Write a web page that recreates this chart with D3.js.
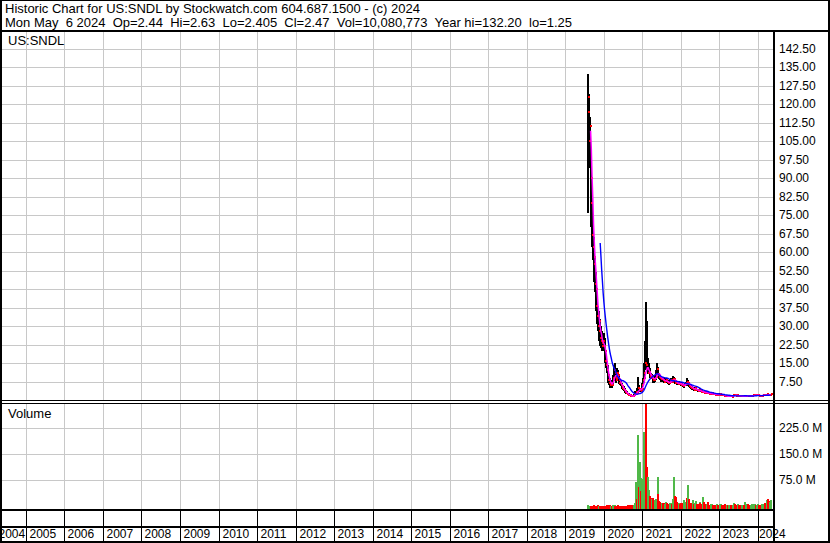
<!DOCTYPE html>
<html>
<head>
<meta charset="utf-8">
<script src="https://cdn.jsdelivr.net/npm/d3@7"></script>
<style>
  body { margin: 0; background: #fff; }
  svg { display: block; }
  text { font-family: Arial, "Liberation Sans", sans-serif; fill: #000; white-space: pre; }
</style>
</head>
<body>
<script>
// weekly bars, first week ends Fri 2 Aug 2019
const firstWeek = new Date(2019, 7, 2)

const hi = [
  132.2, 130, 124, 115, 100, 96, 82, 75, 66, 62,
  58, 52, 48, 42, 38, 34, 36, 33, 30, 28,
  27, 26, 27, 25, 22, 18, 16, 14, 12, 10,
  9, 8, 8, 8, 9, 10, 14, 15, 12, 11,
  13, 12, 10, 9, 8.5, 8, 7, 6.5, 6, 5.5,
  5, 4.5, 4, 3.5, 3.2, 3, 2.8, 2.5, 2.3, 2.1,
  2, 1.9, 1.8, 2.5, 3.5, 3.6, 3.4, 4.8, 9.5, 6,
  5, 4.6, 4.4, 5, 7, 9, 11, 15, 24, 39.6,
  32, 22, 17, 15, 13, 12, 11, 10.5, 10, 9.5,
  9, 10, 11, 12, 15, 13.5, 12, 11, 10, 9.5,
  9.5, 9.5, 9.5, 9, 8.5, 8.5, 9, 9, 8.5, 8.2,
  8, 8, 8.5, 9, 8.5, 9.7, 9.5, 9.2, 8.6, 8.2,
  7.8, 7.6, 7.4, 7.5, 7.6, 7.4, 7.2, 7, 6.8, 6.5,
  6.4, 6.6, 7, 7.4, 7.2, 9, 8, 7.2, 6.8, 6.4,
  6, 5.8, 5.6, 5.4, 5, 5.2, 5.4, 5, 4.6, 4.3,
  4.2, 4.5, 4.8, 4.4, 4, 3.8, 3.6, 3.5, 3.6, 3.4,
  3.3, 3.5, 3.6, 3.4, 3.2, 3, 2.9, 3, 3.2, 3.1,
  2.9, 2.8, 2.7, 2.6, 2.6, 2.7, 2.6, 2.5, 2.4, 2.6,
  2.8, 2.6, 2.5, 2.4, 2.3, 2.1, 2, 1.9, 2, 1.9,
  1.8, 1.8, 1.9, 1.8, 1.7, 1.7, 1.8, 2.1, 2.4, 2.3,
  2.2, 2.1, 2, 2.1, 2, 1.9, 1.85, 1.8, 1.7, 1.7,
  1.75, 1.7, 1.7, 1.65, 1.7, 1.9, 1.95, 1.85, 1.8, 1.75,
  1.7, 1.7, 1.8, 1.9, 1.95, 2, 2.1, 2.05, 2, 2,
  2.1, 2.1, 2, 1.9, 1.85, 1.8, 1.9, 2, 2.1, 2.2,
  2.1, 2.05, 2.1, 2.4, 2.6, 2.4, 2.2, 2.3, 2.63
]

const lo = [
  76, 100, 94, 94, 80, 70, 62, 57, 52, 48,
  44, 40, 36, 31, 28, 26, 24, 22, 21, 20,
  20, 20, 20, 19, 15, 13, 11, 9, 7, 6,
  5, 5, 5.5, 5, 5.5, 7, 8, 9, 8, 7,
  8, 8, 7, 6.5, 6, 5.5, 5, 4.5, 4, 3.8,
  3.2, 3, 2.6, 2.5, 2.3, 2.1, 1.9, 1.8, 1.6, 1.5,
  1.4, 1.3, 1.25, 1.4, 1.8, 2.2, 2.4, 2.5, 2.8, 3.5,
  3.3, 3.2, 3.3, 3.4, 4, 5.5, 7, 8.5, 12, 13,
  12, 12, 10.5, 10.5, 9.5, 9, 8.5, 8.5, 7.5, 7,
  7, 7.5, 8, 9, 10, 9.5, 9, 8.5, 8, 7.5,
  7.5, 7.5, 7.5, 7, 6.8, 7, 7.2, 7, 6.8, 6.5,
  6.2, 6.3, 6.8, 7, 6.8, 7, 7.5, 7.2, 7, 6.6,
  6.4, 6.2, 6, 6.2, 6.3, 6, 5.8, 5.6, 5.5, 5.2,
  5, 5.2, 5.5, 6, 5.8, 6, 6.2, 5.8, 5.4, 5,
  4.6, 4.4, 4.2, 4, 3.8, 3.8, 4.2, 4, 3.6, 3.4,
  3.3, 3.4, 3.6, 3.4, 3.1, 3, 2.9, 2.8, 2.8, 2.7,
  2.6, 2.6, 2.8, 2.7, 2.5, 2.3, 2.2, 2.3, 2.4, 2.4,
  2.2, 2.1, 2, 2, 2, 2.1, 2, 1.9, 1.9, 1.9,
  2.1, 2, 2, 1.9, 1.8, 1.6, 1.5, 1.45, 1.5, 1.5,
  1.45, 1.4, 1.45, 1.4, 1.35, 1.3, 1.35, 1.5, 1.8, 1.9,
  1.8, 1.7, 1.6, 1.7, 1.6, 1.55, 1.5, 1.45, 1.4, 1.4,
  1.45, 1.4, 1.35, 1.35, 1.4, 1.5, 1.6, 1.55, 1.5, 1.45,
  1.4, 1.45, 1.5, 1.6, 1.65, 1.7, 1.75, 1.75, 1.7, 1.7,
  1.8, 1.8, 1.7, 1.65, 1.6, 1.6, 1.65, 1.7, 1.8, 1.85,
  1.8, 1.8, 1.8, 1.9, 2, 2, 1.9, 2, 2.1
]

const cl = [
  117, 123, 105, 111, 90, 80, 67, 62, 58, 55,
  47, 45, 38, 34, 30, 32, 28, 25, 24, 23,
  22, 24, 22, 20, 16, 14, 12, 10, 8, 7,
  6, 7, 6.5, 6, 8, 9, 12, 11, 9, 8,
  11, 10, 8, 7, 7, 6, 5.5, 5, 4.5, 4,
  3.5, 3.2, 2.8, 2.6, 2.4, 2.2, 2, 1.9, 1.7, 1.6,
  1.5, 1.45, 1.5, 2.2, 2.6, 3.2, 2.8, 2.7, 5, 4.2,
  4.4, 4.5, 3.6, 4.6, 6, 8, 9, 11, 15, 14,
  12.5, 13, 11, 11.5, 10, 9.5, 9, 9.5, 8.5, 8,
  8.3, 8.8, 9.5, 10, 12.5, 10.5, 10, 9.5, 9, 8.5,
  8.8, 8.5, 8, 7.5, 7.5, 7.8, 8, 7.5, 7.2, 7,
  6.8, 7.2, 7.8, 8, 7.4, 8.5, 8.2, 8.6, 7.8, 7,
  6.8, 6.7, 6.5, 6.8, 7, 6.5, 6.4, 6.2, 6, 5.7,
  5.9, 6, 6.5, 6.8, 6.4, 7.5, 6.8, 6.2, 5.8, 5.4,
  5, 4.8, 4.9, 4.3, 4.1, 4.6, 4.8, 4.2, 3.9, 3.7,
  3.6, 4, 3.9, 3.6, 3.3, 3.2, 3.4, 3, 3.2, 2.9,
  2.8, 3.1, 2.9, 2.85, 2.7, 2.5, 2.4, 2.6, 2.8, 2.6,
  2.4, 2.3, 2.2, 2.1, 2.2, 2.4, 2.2, 2.1, 2, 2.3,
  2.4, 2.2, 2.1, 2, 1.9, 1.7, 1.6, 1.55, 1.6, 1.6,
  1.5, 1.5, 1.6, 1.5, 1.45, 1.4, 1.5, 1.9, 2.1, 2,
  1.9, 1.8, 1.7, 1.9, 1.75, 1.7, 1.6, 1.55, 1.5, 1.55,
  1.6, 1.5, 1.58, 1.5, 1.6, 1.8, 1.75, 1.7, 1.65, 1.6,
  1.55, 1.6, 1.7, 1.8, 1.85, 1.9, 1.95, 1.9, 1.85, 1.9,
  2, 1.9, 1.8, 1.75, 1.7, 1.75, 1.8, 1.9, 2, 2.05,
  1.95, 1.9, 2, 2.3, 2.2, 2.1, 2, 2.2, 2.47
]

// weekly volume, millions of shares
const vol = [
  3, 2, 1.5, 1.5, 2, 1.5, 1.5, 2, 2.5, 2,
  1.5, 2, 2, 2.5, 2, 1.5, 2, 2, 1.5, 1.5,
  2, 1.5, 2, 2, 1.5, 2, 2.5, 3, 2, 2,
  2.5, 2, 1.5, 2, 3, 2.5, 3, 2, 2, 1.5,
  3, 2.5, 2, 1.5, 2, 1.5, 1.5, 2, 2, 1.5,
  2, 2, 2, 2, 3, 2, 2.5, 3, 2, 3,
  4, 3, 3, 10, 6, 71, 20, 124, 205, 55,
  128, 81, 45, 80, 60, 75, 215, 150, 180, 320,
  114, 85, 33, 47, 30, 25, 22, 20, 24, 18,
  15, 18, 20, 22, 84, 35, 15, 12, 10, 9,
  10, 9, 8, 10, 7, 8, 12, 9, 7, 6,
  8, 10, 9, 7, 8, 20, 14, 84, 30, 28,
  12, 10, 8, 9, 7, 8, 9, 8, 10, 7,
  18, 9, 12, 10, 25, 61, 20, 12, 10, 8,
  9, 7, 18, 8, 6, 9, 14, 8, 6, 5,
  7, 12, 9, 6, 8, 10, 26, 12, 8, 6,
  5, 7, 12, 6, 5, 4, 5, 6, 8, 5,
  4, 4, 5, 3, 4, 6, 4, 3, 4, 6,
  8, 5, 4, 4, 5, 6, 4, 3, 5, 4,
  3, 4, 5, 3, 3, 4, 5, 9, 10, 6,
  5, 4, 4, 6, 4, 3, 4, 3, 3, 4,
  5, 4, 12, 4, 5, 8, 6, 4, 3, 3,
  4, 5, 6, 7, 5, 6, 8, 5, 4, 5,
  6, 5, 4, 3, 4, 5, 6, 7, 8, 6,
  10, 8, 12, 19, 22, 14, 10, 12, 19
]

const priceTicks = d3.range(1, 20).map(k => k * 7.5)
const volTicks = [75, 150, 225]
const years = d3.range(2004, 2025)

const headLine1 = 'Historic Chart for US:SNDL by Stockwatch.com 604.687.1500 - (c) 2024'
const headLine2 = 'Mon May  6 2024  Op=2.44  Hi=2.63  Lo=2.405  Cl=2.47  Vol=10,080,773  Year hi=132.20  lo=1.25'

const width = 830
const height = 543

const weeks = cl.map((c, i) => d3.timeDay.offset(firstWeek, 7 * i))
const bars = weeks.map((d, i) => ({
  date: d, hi: hi[i], lo: lo[i], cl: cl[i], vol: vol[i],
  up: i === 0 || cl[i] >= cl[i - 1]
}))

function sma(n) {
  return bars.map((b, i) => ({
    date: b.date,
    v: i < n - 1 ? null : d3.mean(cl.slice(i - n + 1, i + 1))
  }))
}

const x = d3.scaleTime()
  .domain([new Date(2004, 4, 6), new Date(2024, 4, 6)])
  .range([0.7, 771])
const y = d3.scaleLinear().domain([0, 149.3]).range([400, 32])
const yVol = d3.scaleLinear().domain([0, 300]).range([506.3, 402.3])

const svg = d3.select('body').append('svg')
  .attr('width', width)
  .attr('height', height)

svg.append('rect').attr('width', width).attr('height', height).attr('fill', '#fff')

const defs = svg.append('defs')
defs.append('clipPath').attr('id', 'pclip')
  .append('rect').attr('x', 2).attr('y', 32).attr('width', 771).attr('height', 368)
defs.append('clipPath').attr('id', 'vclip')
  .append('rect').attr('x', 2).attr('y', 404).attr('width', 771).attr('height', 105)

const yearX = yr => Math.round(x(new Date(yr, 0, 1)))

// grid
const grid = svg.append('g').attr('stroke', '#c8c8c8').attr('stroke-width', 1)
  .attr('shape-rendering', 'crispEdges')
grid.selectAll('.gp').data(years.slice(1)).join('line')
  .attr('x1', d => yearX(d) + 0.5).attr('x2', d => yearX(d) + 0.5)
  .attr('y1', 32).attr('y2', 400)
grid.selectAll('.gv').data(years.slice(1)).join('line')
  .attr('x1', d => yearX(d) + 0.5).attr('x2', d => yearX(d) + 0.5)
  .attr('y1', 404).attr('y2', 509)
grid.selectAll('.hp').data(priceTicks).join('line')
  .attr('x1', 2).attr('x2', 773)
  .attr('y1', d => Math.round(y(d)) + 0.5).attr('y2', d => Math.round(y(d)) + 0.5)
grid.selectAll('.hv').data(volTicks).join('line')
  .attr('x1', 2).attr('x2', 773)
  .attr('y1', d => Math.round(yVol(d)) + 0.5).attr('y2', d => Math.round(yVol(d)) + 0.5)

// price bars: high-low in black, close tick in red
const price = svg.append('g').attr('clip-path', 'url(#pclip)')
price.append('g').attr('shape-rendering', 'crispEdges')
  .selectAll('rect').data(bars).join('rect')
  .attr('x', d => Math.round(x(d.date)) - 1)
  .attr('width', 2)
  .attr('y', d => y(d.hi))
  .attr('height', d => Math.max(1, y(d.lo) - y(d.hi)))
  .attr('fill', '#000')

price.append('g').attr('shape-rendering', 'crispEdges')
  .selectAll('rect').data(bars).join('rect')
  .attr('x', d => Math.round(x(d.date)))
  .attr('y', d => Math.round(y(d.cl)) - 1)
  .attr('width', 2)
  .attr('height', 2)
  .attr('fill', '#ff0000')

const maLine = d3.line()
  .defined(d => d.v != null)
  .x(d => x(d.date))
  .y(d => y(d.v))

price.append('path').datum(sma(5))
  .attr('d', maLine).attr('fill', 'none')
  .attr('stroke', '#ff00ff').attr('stroke-width', 1.5)
price.append('path').datum(sma(18))
  .attr('d', maLine).attr('fill', 'none')
  .attr('stroke', '#0000ff').attr('stroke-width', 1.4)

// volume bars
svg.append('g').attr('clip-path', 'url(#vclip)').attr('shape-rendering', 'crispEdges')
  .selectAll('rect').data(bars).join('rect')
  .attr('x', d => Math.floor(x(d.date)))
  .attr('width', 2)
  .attr('y', d => yVol(d.vol))
  .attr('height', d => 509 - yVol(d.vol))
  .attr('fill', d => d.up ? '#50b848' : '#ff0000')

// frame and panel lines
const frame = svg.append('g').attr('fill', '#000').attr('shape-rendering', 'crispEdges')
frame.append('rect').attr('x', 0).attr('y', 0).attr('width', width).attr('height', 1)
frame.append('rect').attr('x', 0).attr('y', 30).attr('width', width).attr('height', 2)
frame.append('rect').attr('x', 0).attr('y', 0).attr('width', 2).attr('height', height)
frame.append('rect').attr('x', 828).attr('y', 0).attr('width', 2).attr('height', height)
frame.append('rect').attr('x', 0).attr('y', 541).attr('width', width).attr('height', 2)
frame.append('rect').attr('x', 0).attr('y', 400).attr('width', width).attr('height', 1)
frame.append('rect').attr('x', 0).attr('y', 403).attr('width', width).attr('height', 1)
frame.append('rect').attr('x', 0).attr('y', 509).attr('width', 775).attr('height', 2)
frame.append('rect').attr('x', 0).attr('y', 526).attr('width', 775).attr('height', 2)
frame.append('rect').attr('x', 773).attr('y', 30).attr('width', 2).attr('height', 513)

// year ticks and label dividers
svg.append('g').attr('stroke', '#000').attr('shape-rendering', 'crispEdges')
  .selectAll('line').data(years.slice(1)).join('line')
  .attr('x1', d => yearX(d) + 0.5).attr('x2', d => yearX(d) + 0.5)
  .attr('y1', 511).attr('y2', 541)

svg.append('g').selectAll('text').data(years).join('text')
  .attr('x', d => Math.max(yearX(d) + (d === 2024 ? 1 : 3.5), -1.5))
  .attr('y', 538)
  .attr('font-size', 12)
  .text(d => d)

// right axes
svg.append('g').selectAll('text').data(priceTicks).join('text')
  .attr('x', 779)
  .attr('y', d => y(d) + 4)
  .attr('font-size', 12)
  .text(d3.format('.2f'))

svg.append('g').selectAll('text').data(volTicks).join('text')
  .attr('x', 779)
  .attr('y', d => yVol(d) + 4)
  .attr('font-size', 12)
  .text(d => d.toFixed(1) + ' M')

// titles
const head = svg.append('g').attr('font-size', 13)
head.append('text').attr('x', 5).attr('y', 12.5).attr('xml:space', 'preserve').text(headLine1)
head.append('text').attr('x', 5).attr('y', 26.5).attr('xml:space', 'preserve').text(headLine2)

svg.append('text').attr('x', 8).attr('y', 45).attr('font-size', 13).text('US:SNDL')
svg.append('text').attr('x', 8).attr('y', 418).attr('font-size', 13).text('Volume')
</script>
</body>
</html>
